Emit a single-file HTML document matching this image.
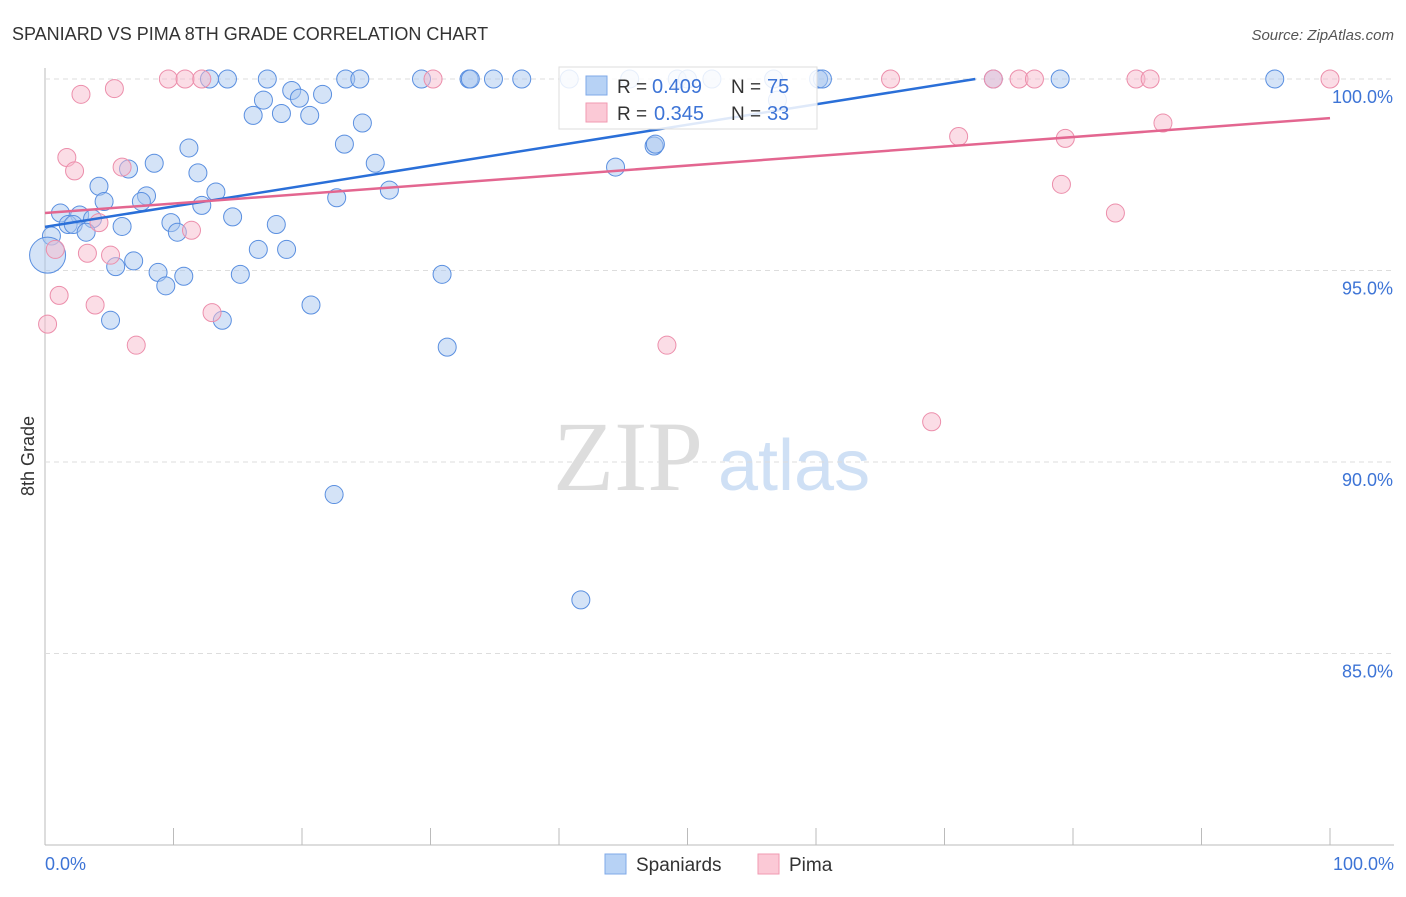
<!DOCTYPE html>
<html><head><meta charset="utf-8"><style>
body{margin:0;background:#fff;font-family:"Liberation Sans",sans-serif}
svg text{font-family:"Liberation Sans",sans-serif}
</style></head><body>
<svg id="c" width="1406" height="892">
<text x="12" y="40" font-size="18" fill="#333">SPANIARD VS PIMA 8TH GRADE CORRELATION CHART</text>
<text x="1394" y="40" font-size="15" fill="#555" font-style="italic" text-anchor="end">Source: ZipAtlas.com</text>
<text x="553" y="490" font-size="100" fill="#ddd" style="font-family:'Liberation Serif',serif">ZIP</text>
<text x="718" y="490" font-size="72" fill="#cfe0f5">atlas</text>
<g id="grid"></g><g id="pts"></g><g id="lines"></g>
<text transform="translate(34,456) rotate(-90)" font-size="18" fill="#333" text-anchor="middle">8th Grade</text>
<text x="45" y="870" font-size="18" fill="#3d74d6">0.0%</text>
<text x="1394" y="870" font-size="18" fill="#3d74d6" text-anchor="end">100.0%</text>
<g>
<rect x="559" y="67" width="258" height="62" fill="#fff" fill-opacity="0.85" stroke="#ddd"/>
<rect x="586" y="76" width="21" height="19" fill="#b7d2f5" stroke="#7fa9e8"/>
<rect x="586" y="103" width="21" height="19" fill="#fbc9d6" stroke="#f09ab2"/>
<text x="617" y="93" font-size="19" fill="#333">R =</text>
<text x="652" y="93" font-size="20" fill="#3d74d6">0.409</text>
<text x="731" y="93" font-size="19" fill="#333">N =</text>
<text x="767" y="93" font-size="20" fill="#3d74d6">75</text>
<text x="617" y="120" font-size="19" fill="#333">R =</text>
<text x="654" y="120" font-size="20" fill="#3d74d6">0.345</text>
<text x="731" y="120" font-size="19" fill="#333">N =</text>
<text x="767" y="120" font-size="20" fill="#3d74d6">33</text>
</g>
<g>
<rect x="605" y="854" width="21" height="20" fill="#b7d2f5" stroke="#7fa9e8"/>
<text x="636" y="871" font-size="19" fill="#333">Spaniards</text>
<rect x="758" y="854" width="21" height="20" fill="#fbc9d6" stroke="#f09ab2"/>
<text x="789" y="871" font-size="19" fill="#333">Pima</text>
</g>
</svg>
<script>
const yTicks=[100,95,90,85];
const blueX=[12.8,14.2,17.3,23.4,24.5,29.3,33,33.1,34.9,37.1,40.8,45.5,49.2,50,51.9,60.2,73.8,79,95.7,56.7,17,19.2,21.6,19.8,16.2,18.4,20.6,24.7,23.3,11.2,8.5,6.5,11.9,25.7,4.2,7.9,13.3,26.8,22.7,4.6,7.5,12.2,1.2,2.7,14.6,18,9.8,3.7,1.8,2.2,6,10.3,3.2,0.5,0.2,16.6,18.8,6.9,5.5,8.8,10.8,15.2,9.4,30.9,20.7,5.1,13.8,31.3,22.5,41.7,47.4,47.5,44.4,60.5,57];
const blueY=[100,100,100,100,100,100,100,100,100,100,100,100,100,100,100,100,100,100,100,100,99.45,99.7,99.6,99.5,99.05,99.1,99.05,98.85,98.3,98.2,97.8,97.65,97.55,97.8,97.2,96.95,97.05,97.1,96.9,96.8,96.8,96.7,96.5,96.45,96.4,96.2,96.25,96.35,96.2,96.2,96.15,96,96,95.9,95.4,95.55,95.55,95.25,95.1,94.95,94.85,94.9,94.6,94.9,94.1,93.7,93.7,93,89.15,86.4,98.25,98.3,97.7,100,99.45];
const blueR=[9,9,9,9,9,9,9,9,9,9,9,9,9,9,9,9,9,9,9,9,9,9,9,9,9,9,9,9,9,9,9,9,9,9,9,9,9,9,9,9,9,9,9,9,9,9,9,9,9,9,9,9,9,9,18,9,9,9,9,9,9,9,9,9,9,9,9,9,9,9,9,9,9,9,9];
const pinkX=[9.6,10.9,12.2,30.2,65.8,73.8,75.8,77,84.9,86,100,2.8,5.4,1.7,2.3,6,4.2,11.4,0.8,3.3,5.1,1.1,3.9,13,0.2,7.1,48.4,71.1,79.4,87,79.1,83.3,69.0];
const pinkY=[100,100,100,100,100,100,100,100,100,100,100,99.6,99.75,97.95,97.6,97.7,96.25,96.05,95.55,95.45,95.4,94.35,94.1,93.9,93.6,93.05,93.05,98.5,98.45,98.85,97.25,96.5,91.05];
const blueLine=[[0,96.14],[72.4,100]];
const pinkLine=[[0,96.5],[100,98.98]];
const X=v=>45+v*12.85, Y=v=>79+(100-v)*38.3;
const NS="http://www.w3.org/2000/svg";
function mk(t,a,p){const e=document.createElementNS(NS,t);for(const k in a)e.setAttribute(k,a[k]);p.appendChild(e);return e;}
const g=document.getElementById('grid');
mk('line',{x1:45,y1:68,x2:45,y2:845,stroke:'#bbb'},g);
mk('line',{x1:45,y1:845,x2:1394,y2:845,stroke:'#bbb'},g);
for(let i=0;i<=10;i++){const l=mk('line',{x1:45+i*128.5,y1:828,x2:45+i*128.5,y2:845,stroke:'#bbb'},g);

}
yTicks.forEach(t=>{const l=mk('line',{x1:45,y1:Y(t),x2:1394,y2:Y(t),stroke:'#ddd','stroke-dasharray':'5,4'},g);


const tx=mk('text',{x:1393,y:Y(t)+24,'font-size':18,fill:'#3d74d6','text-anchor':'end'},g);tx.textContent=t.toFixed(1)+'%';

});
const p=document.getElementById('pts');
blueX.forEach((x,i)=>{const c=mk('circle',{cx:X(x),cy:Y(blueY[i]),r:blueR[i],fill:'#a9c8f0','fill-opacity':0.5,stroke:'#5a8fe0','stroke-width':1},p);

});
pinkX.forEach((x,i)=>{const c=mk('circle',{cx:X(x),cy:Y(pinkY[i]),r:9,fill:'#f8bccd','fill-opacity':0.5,stroke:'#ec8eab','stroke-width':1},p);

});
const L=document.getElementById('lines');
const bl=mk('line',{x1:X(blueLine[0][0]),y1:Y(blueLine[0][1]),x2:X(blueLine[1][0]),y2:Y(blueLine[1][1]),stroke:'#2a6fd8','stroke-width':2.5},L);


const pl=mk('line',{x1:X(pinkLine[0][0]),y1:Y(pinkLine[0][1]),x2:X(pinkLine[1][0]),y2:Y(pinkLine[1][1]),stroke:'#e36690','stroke-width':2.5},L);


</script>
</body></html>
